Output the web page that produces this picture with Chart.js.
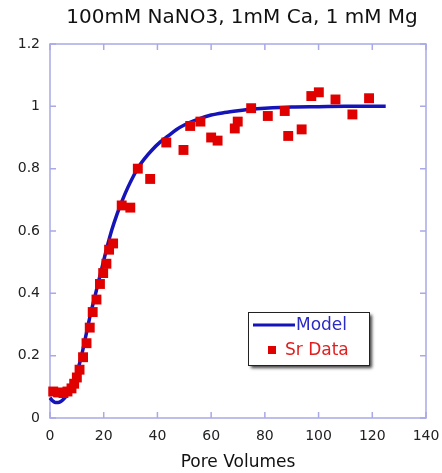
<!DOCTYPE html>
<html><head><meta charset="utf-8">
<script src="https://cdn.jsdelivr.net/npm/chart.js@4.4.0/dist/chart.umd.min.js"></script>
<style>html,body{margin:0;padding:0;background:#fff;}</style>
</head><body>
<canvas id="c" width="442" height="473"></canvas>
<script>
const chartTitle = '100mM NaNO3, 1mM Ca, 1 mM Mg';
const xAxisTitle = 'Pore Volumes';
const seriesNames = ['Model', 'Sr Data'];

// Model curve
const modelX = [0,1,2,3,4,5,6,7,8,9,10,11,12,13,14,15,17,19,21,23,25,27,29,31,33,35,38,41,44,47,50,55,60,65,70,75,80,90,100,110,125];
const modelY = [0.065,0.055,0.05,0.05,0.053,0.06,0.07,0.083,0.1,0.12,0.145,0.175,0.21,0.25,0.29,0.33,0.4,0.47,0.54,0.603,0.655,0.70,0.74,0.775,0.806,0.83,0.86,0.885,0.905,0.925,0.94,0.958,0.972,0.98,0.986,0.991,0.994,0.998,0.999,1.0,1.0];

// Sr data points
const srX = [1.2,3,5,6.5,8,9,10,11,12.3,13.6,14.8,15.9,17.3,18.6,19.8,21,22,23.5,26.7,29.9,32.7,37.3,43.3,49.7,52.2,56,60,62.4,68.8,69.9,74.9,81.1,87.4,88.7,93.7,97.3,100.1,106.3,112.6,118.8];
const srY = [0.085,0.082,0.08,0.085,0.095,0.11,0.13,0.155,0.195,0.24,0.29,0.34,0.38,0.43,0.465,0.495,0.54,0.56,0.682,0.675,0.80,0.767,0.884,0.86,0.937,0.951,0.90,0.89,0.929,0.951,0.994,0.969,0.985,0.905,0.926,1.033,1.045,1.022,0.974,1.026];

const xTicks = [0,20,40,60,80,100,120,140];
const yTicks = [0,0.2,0.4,0.6,0.8,1,1.2];
const yTickLabels = ['0','0.2','0.4','0.6','0.8','1','1.2'];

const FONT = 'DejaVu Sans';
const frameColor = '#a9a9e6';
const modelColor = '#1414b8';
const srColor = '#e00000';

const toPts = (xs, ys) => xs.map((x, i) => ({x: x, y: ys[i]}));

const framePlugin = {
  id: 'frame',
  beforeDatasetsDraw(chart) {
    const {ctx, chartArea: a, scales: {x, y}} = chart;
    ctx.save();
    ctx.strokeStyle = frameColor;
    ctx.lineWidth = 1.5;
    ctx.strokeRect(a.left, a.top, a.right - a.left, a.bottom - a.top);
    const L = 6;
    ctx.beginPath();
    xTicks.forEach(v => {
      const px = x.getPixelForValue(v);
      ctx.moveTo(px, a.bottom); ctx.lineTo(px, a.bottom - L);
      ctx.moveTo(px, a.top); ctx.lineTo(px, a.top + L);
    });
    yTicks.forEach(v => {
      const py = y.getPixelForValue(v);
      ctx.moveTo(a.left, py); ctx.lineTo(a.left + L, py);
      ctx.moveTo(a.right, py); ctx.lineTo(a.right - L, py);
    });
    ctx.stroke();
    ctx.restore();
  }
};

const legendPlugin = {
  id: 'boxLegend',
  afterDraw(chart) {
    const {ctx} = chart;
    const ds = chart.data.datasets;
    const bx = 248, by = 312, bw = 121, bh = 53;
    ctx.save();
    ctx.shadowColor = 'rgba(0,0,0,0.75)';
    ctx.shadowBlur = 3;
    ctx.shadowOffsetX = 3;
    ctx.shadowOffsetY = 3;
    ctx.fillStyle = '#fff';
    ctx.fillRect(bx, by, bw, bh);
    ctx.restore();
    ctx.save();
    ctx.strokeStyle = '#222';
    ctx.lineWidth = 1;
    ctx.strokeRect(bx + 0.5, by + 0.5, bw, bh);
    // Model entry
    ctx.strokeStyle = ds[0].borderColor;
    ctx.lineWidth = 3;
    ctx.beginPath();
    ctx.moveTo(bx + 5, by + 13); ctx.lineTo(bx + 47, by + 13);
    ctx.stroke();
    ctx.font = '17px "' + FONT + '"';
    ctx.textBaseline = 'middle';
    ctx.textAlign = 'left';
    ctx.fillStyle = '#2a2ac4';
    ctx.fillText(ds[0].label, bx + 48, by + 14);
    // Sr entry
    ctx.fillStyle = ds[1].backgroundColor;
    ctx.fillRect(bx + 20, by + 34, 8, 8);
    ctx.fillStyle = '#e02020';
    ctx.fillText(ds[1].label, bx + 37, by + 39);
    ctx.restore();
  }
};

const titleShift = {
  id: 'titleShift',
  afterLayout(chart) {
    if (chart.titleBlock) { chart.titleBlock.left = 42; chart.titleBlock.right = 442; }
  }
};

new Chart(document.getElementById('c'), {
  type: 'scatter',
  data: {
    datasets: [
      {
        label: seriesNames[0],
        data: toPts(modelX, modelY),
        showLine: true,
        borderColor: modelColor,
        backgroundColor: modelColor,
        borderWidth: 3.5,
        pointRadius: 0,
        tension: 0.4,
        cubicInterpolationMode: 'monotone',
        clip: false,
        order: 2
      },
      {
        label: seriesNames[1],
        data: toPts(srX, srY),
        showLine: false,
        pointStyle: 'rect',
        pointRadius: 7,
        pointHoverRadius: 7,
        backgroundColor: srColor,
        borderColor: srColor,
        borderWidth: 0,
        clip: false,
        order: 1
      }
    ]
  },
  options: {
    responsive: false,
    animation: false,
    devicePixelRatio: 1,
    layout: {padding: {left: 0, right: 16, top: 0, bottom: 0}},
    plugins: {
      legend: {display: false},
      tooltip: {enabled: false},
      title: {
        display: true,
        text: chartTitle,
        color: '#111',
        font: {family: FONT, size: 20, weight: 'normal', lineHeight: 1.2},
        padding: {top: 6, bottom: 14}
      }
    },
    scales: {
      x: {
        type: 'linear',
        min: 0, max: 140,
        grid: {display: false, drawTicks: false},
        border: {display: false},
        ticks: {
          stepSize: 20,
          padding: 10,
          color: '#222',
          font: {family: FONT, size: 14},
          maxRotation: 0
        },
        title: {
          display: true,
          text: xAxisTitle,
          color: '#111',
          font: {family: FONT, size: 17, lineHeight: 1.2},
          padding: {top: 0, bottom: 0}
        },
        afterFit(s) { s.height = 55; s.paddingLeft = 0; s.paddingRight = 0; }
      },
      y: {
        type: 'linear',
        min: 0, max: 1.2,
        grid: {display: false, drawTicks: false},
        border: {display: false},
        ticks: {
          stepSize: 0.2,
          padding: 10,
          color: '#222',
          font: {family: FONT, size: 14},
          callback: (v) => {
            const i = yTicks.findIndex(t => Math.abs(t - v) < 1e-9);
            return i >= 0 ? yTickLabels[i] : '';
          }
        },
        afterFit(s) { s.width = 50; s.paddingTop = 0; s.paddingBottom = 0; }
      }
    }
  },
  plugins: [framePlugin, legendPlugin, titleShift]
});
</script>
</body></html>
